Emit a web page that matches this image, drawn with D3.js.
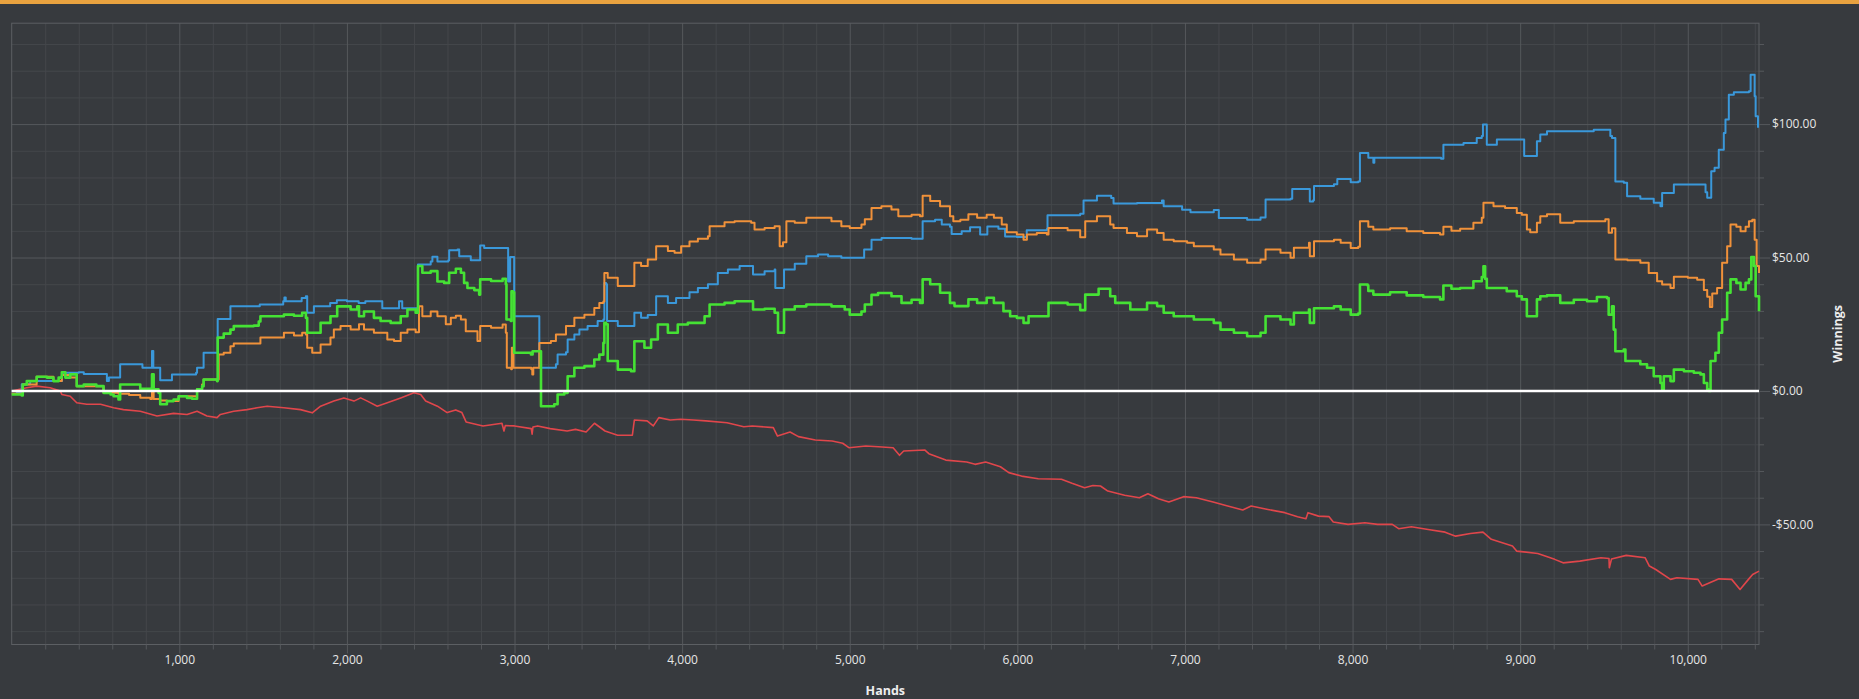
<!DOCTYPE html>
<html>
<head>
<meta charset="utf-8">
<script src="https://cdn.jsdelivr.net/npm/d3@7"></script>
<style>
  html, body { margin: 0; padding: 0; background: #373a3e; overflow: hidden; }
  #topbar { height: 4px; background: #e9a23f; }
  svg { display: block; position: absolute; top: 0; left: 0; }
  .tick text { font-family: "Open Sans", sans-serif; font-size: 12px; fill: #e6e6e6; }
  .axis-title { font-family: "Open Sans", sans-serif; font-size: 12.5px; font-weight: bold; fill: #eeeeee; }
</style>
</head>
<body>
<div id="topbar"></div>
<svg id="chart"></svg>
<script>
// Cumulative winnings per session, [hands, dollars]
const blueSeries = [
  [0,0],[30,-0.5],[60,2.5],[110,3.7],[300,6.8],[400,7],[430,6.4],[560,6.4],[568,3.7],[580,5],[640,5],[647,10],
  [770,10],[780,8.7],[830,8.7],[837,15],[845,8.7],[880,8.7],[886,4],[950,4],[956,6.2],[1100,6.8],[1106,8.7],
  [1140,8.7],[1145,14.3],[1225,14.3],[1229,27],[1300,27],[1305,31.7],[1480,32.4],[1620,33.6],[1627,35],[1635,33.6],
  [1730,34.8],[1755,35.5],[1763,29.3],[1795,29.3],[1803,31.7],[1870,31.7],[1900,33],[1940,34],[2000,33.6],[2070,33],
  [2110,33.6],[2200,33.6],[2211,31],[2300,31],[2311,33.6],[2330,31],[2420,31],[2424,47.4],[2500,48.5],[2510,50.3],
  [2540,48.5],[2605,49],[2610,52.7],[2660,53],[2670,50.5],[2739,49],[2790,49],[2795,54.5],[2819,53.6],[2958,53.6],
  [2962,41],[2970,41],[2974,50.2],[2994,50.2],[2998,28],[3144,28],[3148,8.7],[3240,8.7],[3247,10],[3257,13.7],
  [3307,14.5],[3317,19.3],[3357,21.2],[3387,23],[3436,24.3],[3496,26.2],[3530,26.8],[3536,40.5],[3546,40],[3552,26.2],
  [3616,24.3],[3710,24.3],[3715,29.3],[3755,27.4],[3795,28.5],[3845,35.5],[3915,33],[3964,34.8],[4044,37],[4094,38.6],
  [4154,40],[4213,44.2],[4273,45.5],[4343,46.8],[4413,46.8],[4423,43.6],[4492,44.9],[4552,45.5],[4556,38.6],[4602,38.6],
  [4608,45.5],[4672,47.7],[4741,50.5],[4811,51.1],[4871,50.5],[4950,49.9],[5070,49.9],[5086,53],[5130,56.7],[5190,57.3],
  [5369,57],[5419,57],[5435,63.6],[5509,64.2],[5549,62.4],[5598,61.5],[5608,58.8],[5668,59.8],[5718,61.3],[5778,58.6],
  [5813,58.6],[5821,61.6],[5887,60.8],[5927,57.9],[5997,57.7],[6056,60.2],[6176,60.7],[6180,65.8],[6375,66.4],[6395,71.4],
  [6475,73.1],[6560,72.3],[6574,70.2],[6714,70.4],[6863,71.4],[6873,69.2],[6983,67.9],[7033,67],[7172,67.8],[7202,64.8],
  [7371,64.2],[7451,65],[7481,71.7],[7630,72],[7640,75.7],[7740,75.7],[7745,71],[7765,71.5],[7770,76.8],[7889,77.5],
  [7909,79.4],[7989,78.2],[8034,78.5],[8044,89.2],[8090,89.2],[8094,87.4],[8120,87.4],[8124,85.5],[8130,87.4],[8343,87.4],
  [8528,87],[8542,92.3],[8600,92.3],[8662,92.9],[8741,94.8],[8771,95.5],[8778,99.8],[8792,99.8],[8801,92.3],[8855,92.3],
  [8861,94.2],[9010,94.2],[9024,88],[9080,88],[9100,93.6],[9120,96.1],[9160,97.3],[9300,97.3],[9439,97.9],[9508,97.9],
  [9538,95.5],[9548,94.8],[9568,78.5],[9618,78],[9638,73],[9717,72],[9797,70.5],[9837,69.2],[9847,74.2],[9917,77.4],
  [10036,77.4],[10106,74.5],[10116,72.4],[10126,72.4],[10140,82.3],[10160,83.6],[10185,90.4],[10215,96.7],[10225,101.7],
  [10245,111],[10275,111.9],[10365,112.3],[10375,118.5],[10391,118.5],[10399,110.4],[10405,102.9],[10419,98.6]
];

const orangeSeries = [
  [0,-1],[60,-1.5],[66,2.4],[149,5.3],[249,3.7],[299,6],[349,5],[388,1.8],[505,1.8],[548,-0.7],[637,-1],[700,-1.5],
  [767,-2.5],[827,-3],[837,-0.6],[847,-3],[886,-3.6],[926,-3.8],[996,-2],[1106,0.6],[1136,2.4],[1145,4.3],[1225,4.3],
  [1235,13.7],[1265,14.3],[1305,16.8],[1325,17.8],[1484,20],[1624,21.8],[1684,20.8],[1733,21.8],[1755,21.2],[1763,16.2],
  [1793,14.3],[1843,17.4],[1902,20],[1922,23],[1962,24.3],[2022,23],[2072,25],[2102,23],[2161,21.8],[2241,19.3],
  [2281,18.7],[2321,21.8],[2361,23],[2410,22],[2430,31.7],[2450,28],[2500,29.8],[2540,28],[2590,25],[2620,27.4],
  [2650,28.2],[2680,26.8],[2709,22.4],[2779,18.7],[2795,24.3],[2860,23.7],[2929,24.9],[2948,21.8],[2954,8.7],[2980,8.1],
  [2984,16.2],[2990,16.2],[2994,8.7],[3060,8.7],[3100,8.1],[3106,6.2],[3112,8.7],[3144,8.7],[3148,18],[3217,18.7],
  [3247,21.2],[3307,24.3],[3357,27.4],[3417,28.6],[3476,31.1],[3506,33],[3530,33.5],[3536,44.2],[3556,42.4],[3616,39.3],
  [3695,39.3],[3715,48],[3755,46.8],[3795,49.3],[3845,54.2],[3915,52.4],[3955,51.8],[3994,54.2],[4044,56],[4094,57],
  [4154,58],[4164,61.7],[4253,63.2],[4313,63.6],[4412,63],[4432,60.5],[4492,61.1],[4552,61.7],[4582,54.2],[4602,55.7],
  [4622,63.6],[4672,63],[4741,64.9],[4811,64.9],[4891,63.6],[4950,61.7],[5000,61.1],[5070,62.4],[5090,64.3],[5130,68.6],
  [5189,69.2],[5249,68],[5290,65.5],[5369,66],[5419,65.5],[5435,73.1],[5480,71.2],[5539,69.2],[5598,65.5],[5618,63.6],
  [5660,64.2],[5708,66.2],[5760,64.9],[5817,66],[5860,64.9],[5907,62.4],[5937,59.5],[5997,58.6],[6037,56.7],[6057,58.6],
  [6116,59.2],[6176,58.6],[6186,61.1],[6300,60.2],[6375,57.6],[6405,63.6],[6475,65.5],[6554,62.4],[6574,61.1],[6654,59.2],
  [6714,58],[6774,60.5],[6834,59.2],[6873,56.7],[6933,56.1],[7013,55.5],[7053,54.2],[7172,53],[7212,51.1],[7292,49.3],
  [7371,48],[7451,49.3],[7481,53],[7570,51.8],[7630,49.9],[7650,53.7],[7740,55.5],[7745,50.5],[7765,50.5],[7770,56.1],
  [7889,56.7],[7929,55.5],[7989,53.6],[8034,54],[8044,63.6],[8090,63.6],[8094,61.5],[8124,60.5],[8224,61],[8323,59.8],
  [8422,59.2],[8522,58.6],[8542,61.5],[8590,60],[8642,60.8],[8721,63],[8771,64.9],[8781,70.5],[8841,69.2],[8910,68.6],
  [8980,66.7],[9010,66],[9040,60.5],[9060,59.5],[9100,63],[9120,65.5],[9160,66.2],[9239,63],[9320,63.6],[9399,63.6],
  [9508,64.3],[9528,59.3],[9548,61],[9568,49.3],[9640,49],[9717,48],[9767,44.2],[9817,41.1],[9847,39.9],[9897,38.6],
  [9917,42.8],[10000,42.4],[10056,41.7],[10096,37.8],[10116,35.3],[10132,31.5],[10146,36.5],[10175,38.6],[10205,48],
  [10235,54.2],[10255,62.4],[10290,61.5],[10315,59.8],[10345,61.5],[10365,63.6],[10385,64.2],[10399,56.7],[10411,46.8],
  [10425,44.2]
];

const greenSeries = [
  [0,-1.3],[60,-1.7],[66,2.4],[90,3.7],[149,5.3],[210,5],[249,3.7],[280,5],[299,7],[320,5],[349,6.2],[388,1.8],
  [430,2.4],[505,1.8],[548,-0.7],[590,-1.3],[608,-2],[637,-3.2],[647,2.4],[727,2.4],[767,0.8],[827,0.6],[837,6.2],
  [847,0.6],[876,-0.7],[886,-5],[926,-3.8],[966,-3.2],[996,-2],[1046,-2.6],[1076,-2.9],[1106,0.6],[1136,1.8],[1145,4.3],
  [1225,3.7],[1229,20],[1265,21.5],[1305,23],[1325,24.3],[1445,24.5],[1474,26],[1484,28],[1624,28.6],[1684,28.2],
  [1733,29.3],[1755,27.4],[1763,21.8],[1793,21.8],[1843,25.5],[1902,28],[1942,31.7],[2022,30.5],[2062,31.7],[2072,28],
  [2102,29.8],[2161,27.4],[2201,26.2],[2261,25.5],[2321,28],[2361,30.5],[2410,29.3],[2424,46.8],[2450,44.3],[2500,44.9],
  [2540,41],[2580,40.5],[2610,44.3],[2650,45.8],[2680,44.3],[2699,40.5],[2719,38.6],[2760,37.8],[2789,36.1],[2795,41.8],
  [2860,41.2],[2929,42],[2948,40],[2952,26.8],[2978,26.2],[2982,37.3],[2990,37],[2998,14.3],[3098,13.7],[3108,14.9],
  [3154,14.9],[3158,-5.7],[3237,-5],[3257,-1.3],[3297,-0.7],[3317,5.5],[3357,8.7],[3417,9.3],[3476,11.8],[3506,13.6],
  [3530,18],[3536,25.5],[3546,25],[3556,11.2],[3616,8],[3695,7.4],[3715,18.6],[3775,16.2],[3815,19.3],[3855,24.9],
  [3915,21.8],[3974,24.9],[4034,25.5],[4134,28],[4164,32.4],[4253,33],[4313,33.6],[4393,33.6],[4423,30.5],[4492,30.8],
  [4552,29.3],[4572,21.8],[4592,21.8],[4608,30.5],[4672,31.7],[4741,32.4],[4811,32.4],[4891,31.7],[4970,30.5],[5000,28.6],
  [5070,29.8],[5090,32.4],[5130,36],[5169,36.7],[5249,35.5],[5309,33],[5369,34.2],[5419,33],[5435,41.8],[5480,40],
  [5539,36.8],[5598,33],[5625,31.8],[5708,34.3],[5760,33],[5817,34.9],[5860,33],[5917,29.9],[5957,28],[5997,27.4],
  [6037,25.5],[6067,28],[6176,28],[6186,33],[6300,32.4],[6375,30.3],[6405,36.1],[6485,38.3],[6554,35.5],[6584,33],
  [6674,30.5],[6774,33],[6834,31.8],[6873,29.3],[6933,28],[7013,28],[7053,26.8],[7172,25.5],[7212,23],[7292,21.8],
  [7371,20.5],[7451,21.8],[7481,28],[7570,26.8],[7630,24.9],[7650,29.3],[7740,30.5],[7745,25.5],[7765,25.5],[7770,31],
  [7889,31.7],[7929,30.5],[7989,28.6],[8034,29],[8044,39.9],[8090,39.5],[8094,37.5],[8124,36.1],[8224,37],[8323,35.8],
  [8422,35.2],[8522,34.3],[8542,39.5],[8590,38.3],[8642,38.6],[8721,41.1],[8771,42.7],[8781,46.7],[8791,42],[8801,38.6],
  [8841,38.6],[8920,37.4],[8980,35.5],[9010,34.3],[9040,28],[9080,28],[9100,34.3],[9120,35.5],[9160,35.8],[9239,33],
  [9320,34.2],[9399,33.6],[9458,35.2],[9518,34.8],[9528,28.6],[9548,31.7],[9558,23],[9568,14.9],[9618,15.5],[9628,11.2],
  [9717,10],[9757,8.7],[9797,5.5],[9837,3],[9847,0.6],[9857,5.5],[9897,3.7],[9917,8],[9977,7.4],[10036,6.8],[10076,6.2],
  [10096,3],[10116,0.6],[10126,0],[10136,11.2],[10165,14.3],[10185,21.8],[10205,26.8],[10235,36.8],[10255,41.8],
  [10290,40.5],[10315,38],[10345,40.5],[10365,41.8],[10379,50.2],[10395,46.8],[10405,35.5],[10425,29.9]
];

const redSeries = [
  [0,0],[90,1.2],[149,1.8],[229,1.2],[290,0],[299,-1.3],[349,-2],[388,-4.4],[448,-5],[530,-5],[608,-6.3],[667,-7],
  [767,-7.6],[867,-9.4],[966,-8.4],[1046,-8.8],[1106,-7.6],[1165,-9.4],[1225,-10],[1245,-8.8],[1325,-7.6],[1404,-7],
  [1464,-6.3],[1524,-5.7],[1624,-6.3],[1723,-7],[1793,-8.2],[1843,-5.7],[1922,-3.8],[1982,-2.6],[2042,-3.8],[2082,-2.6],
  [2122,-3.8],[2181,-5.7],[2241,-4.4],[2321,-2.6],[2400,-0.7],[2440,-1.3],[2470,-3.8],[2540,-5.7],[2598,-8.1],[2649,-7.1],
  [2686,-8.1],[2711,-11.6],[2812,-13.1],[2925,-12.1],[2937,-15],[2945,-13],[3000,-13.1],[3100,-14.1],[3105,-16.2],
  [3110,-13.5],[3138,-13.1],[3213,-14.1],[3314,-15],[3364,-14.4],[3427,-15.4],[3477,-12.1],[3540,-15],[3615,-16.6],
  [3703,-16.6],[3715,-10.9],[3791,-11.2],[3828,-13.1],[3861,-10],[3929,-10.9],[3991,-10.6],[4067,-10.9],[4142,-11.2],
  [4268,-11.9],[4368,-13.4],[4418,-13.1],[4544,-13.75],[4569,-16.9],[4644,-15.4],[4694,-17.1],[4795,-18.4],[4895,-18.75],
  [4958,-19.6],[4995,-21.25],[5096,-20.6],[5171,-20.9],[5259,-21.25],[5297,-24.1],[5322,-22.5],[5447,-22.1],[5472,-23.5],
  [5573,-25.9],[5698,-26.6],[5748,-27.5],[5811,-26.6],[5899,-28.4],[5949,-30.6],[6025,-31.9],[6125,-32.9],[6263,-33.1],
  [6326,-34.6],[6401,-36.25],[6451,-35.4],[6496,-35.6],[6540,-37.5],[6640,-39.1],[6728,-40],[6779,-38.5],[6842,-40.4],
  [6904,-41.6],[6992,-39.6],[7068,-40],[7168,-41.6],[7244,-42.9],[7345,-44.6],[7395,-43.1],[7495,-44.4],[7596,-45.6],
  [7672,-47.1],[7722,-47.9],[7734,-45.6],[7797,-46.9],[7860,-47.1],[7885,-49.1],[7973,-50],[8074,-49.4],[8149,-50],
  [8237,-50],[8275,-51.6],[8351,-50.9],[8451,-51.9],[8552,-52.9],[8615,-54.4],[8703,-53.4],[8778,-52.9],[8828,-55.6],
  [8954,-58.1],[8979,-60],[9105,-60.9],[9206,-63.1],[9256,-64.4],[9356,-63.75],[9482,-62.5],[9530,-62.8],[9532,-66.25],
  [9545,-63],[9633,-61.6],[9746,-62.5],[9771,-65.6],[9809,-66.9],[9897,-70.6],[9935,-70],[10061,-70.6],[10086,-73.1],
  [10186,-70.4],[10262,-70.6],[10312,-74.4],[10362,-70.6],[10387,-68.75],[10425,-67.5]
];

const seriesNames = ['blue', 'orange', 'green', 'red'];
const seriesColors = ['#3a98da', '#f0913a', '#45e234', '#e0464b'];
const seriesWidths = [2, 2, 2.6, 1.6];
// the three cash sessions move in whole pots, the red one drifts
const seriesStepped = [true, true, true, false];

const xMajorTicks = [1000, 2000, 3000, 4000, 5000, 6000, 7000, 8000, 9000, 10000];
const yMajorTicks = [-50, 0, 50, 100];
const xDomain = [0, 10425];
const yDomain = [-95, 137.8];

class WinningsChart {

  constructor(_config, _data) {
    this.config = {
      parentElement: _config.parentElement,
      containerWidth: 1859,
      containerHeight: 699,
      margin: {top: 23.2, right: 100, bottom: 54.5, left: 11.7}
    };
    this.data = _data;
    this.initVis();
  }

  initVis() {
    let vis = this;

    vis.width = vis.config.containerWidth - vis.config.margin.left - vis.config.margin.right;
    vis.height = vis.config.containerHeight - vis.config.margin.top - vis.config.margin.bottom;

    vis.xScale = d3.scaleLinear().domain(xDomain).range([0, vis.width]);
    vis.yScale = d3.scaleLinear().domain(yDomain).range([vis.height, 0]);

    vis.svg = d3.select(vis.config.parentElement)
        .attr('width', vis.config.containerWidth)
        .attr('height', vis.config.containerHeight);

    vis.chart = vis.svg.append('g')
        .attr('transform', `translate(${vis.config.margin.left},${vis.config.margin.top})`);

    // minor ticks every 200 hands / $10, majors every 1000 hands / $50
    const xMinor = d3.range(200, xDomain[1], 200).filter(d => d % 1000 !== 0);
    const yMinor = d3.range(-90, 131, 10).filter(d => d % 50 !== 0);

    // minor grid
    vis.chart.append('g')
        .call(d3.axisBottom(vis.xScale).tickValues(xMinor).tickSize(vis.height).tickFormat(''))
        .call(g => g.select('.domain').remove())
        .call(g => g.selectAll('line').attr('stroke', '#44474b'));
    vis.chart.append('g')
        .call(d3.axisLeft(vis.yScale).tickValues(yMinor).tickSize(-vis.width).tickFormat(''))
        .call(g => g.select('.domain').remove())
        .call(g => g.selectAll('line').attr('stroke', '#44474b'));

    // major grid
    vis.chart.append('g')
        .call(d3.axisBottom(vis.xScale).tickValues(xMajorTicks).tickSize(vis.height).tickFormat(''))
        .call(g => g.select('.domain').remove())
        .call(g => g.selectAll('line').attr('stroke', '#55585c'));
    vis.chart.append('g')
        .call(d3.axisLeft(vis.yScale).tickValues([-50, 50, 100]).tickSize(-vis.width).tickFormat(''))
        .call(g => g.select('.domain').remove())
        .call(g => g.selectAll('line').attr('stroke', '#55585c'));

    // frame
    vis.chart.append('rect')
        .attr('width', vis.width)
        .attr('height', vis.height)
        .attr('fill', 'none')
        .attr('stroke', '#5c5f63');

    // bottom axis: small minor ticks + labelled majors
    vis.chart.append('g')
        .attr('transform', `translate(0,${vis.height})`)
        .call(d3.axisBottom(vis.xScale).tickValues(xMinor).tickSize(5).tickFormat(''))
        .call(g => g.select('.domain').remove())
        .call(g => g.selectAll('line').attr('stroke', '#55585c'));
    vis.chart.append('g')
        .attr('transform', `translate(0,${vis.height})`)
        .call(d3.axisBottom(vis.xScale).tickValues(xMajorTicks).tickSize(9).tickPadding(2)
            .tickFormat(d3.format(',')))
        .call(g => g.select('.domain').remove())
        .call(g => g.selectAll('line').attr('stroke', '#55585c'));

    // right axis
    vis.chart.append('g')
        .attr('transform', `translate(${vis.width},0)`)
        .call(d3.axisRight(vis.yScale).tickValues(yMinor).tickSize(5).tickFormat(''))
        .call(g => g.select('.domain').remove())
        .call(g => g.selectAll('line').attr('stroke', '#55585c'));
    vis.chart.append('g')
        .attr('transform', `translate(${vis.width},0)`)
        .call(d3.axisRight(vis.yScale).tickValues(yMajorTicks).tickSize(11).tickPadding(2)
            .tickFormat(d => (d < 0 ? '-$' : '$') + Math.abs(d).toFixed(2)))
        .call(g => g.select('.domain').remove())
        .call(g => g.selectAll('line').attr('stroke', '#55585c'));

    // axis titles
    vis.chart.append('text')
        .attr('class', 'axis-title')
        .attr('x', vis.width / 2)
        .attr('y', vis.height + 51)
        .attr('text-anchor', 'middle')
        .text('Hands');

    vis.chart.append('text')
        .attr('class', 'axis-title')
        .attr('transform', `translate(${vis.width + 83},${vis.height / 2}) rotate(-90)`)
        .attr('text-anchor', 'middle')
        .text('Winnings');

    vis.stepLine = d3.line()
        .x(d => vis.xScale(d[0]))
        .y(d => vis.yScale(d[1]))
        .curve(d3.curveStepAfter);

    vis.plainLine = d3.line()
        .x(d => vis.xScale(d[0]))
        .y(d => vis.yScale(d[1]));

    vis.renderVis();
  }

  renderVis() {
    let vis = this;

    // red first so the stepped lines sit on top of it
    const order = [3, 0, 1, 2];
    vis.chart.selectAll('.series')
        .data(order.map(i => vis.data[i]))
      .join('path')
        .attr('class', 'series')
        .attr('fill', 'none')
        .attr('stroke', d => d.color)
        .attr('stroke-width', d => d.width)
        .attr('stroke-linejoin', 'round')
        .attr('d', d => d.stepped ? vis.stepLine(d.values) : vis.plainLine(d.values));

    // break-even line
    vis.chart.append('line')
        .attr('x1', 0)
        .attr('x2', vis.width)
        .attr('y1', vis.yScale(0))
        .attr('y2', vis.yScale(0))
        .attr('stroke', '#ffffff')
        .attr('stroke-width', 2.5);
  }
}

const allSeries = [blueSeries, orangeSeries, greenSeries, redSeries].map((values, i) => ({
  name: seriesNames[i],
  color: seriesColors[i],
  width: seriesWidths[i],
  stepped: seriesStepped[i],
  values: values
}));

const chart = new WinningsChart({parentElement: '#chart'}, allSeries);
</script>
</body>
</html>
